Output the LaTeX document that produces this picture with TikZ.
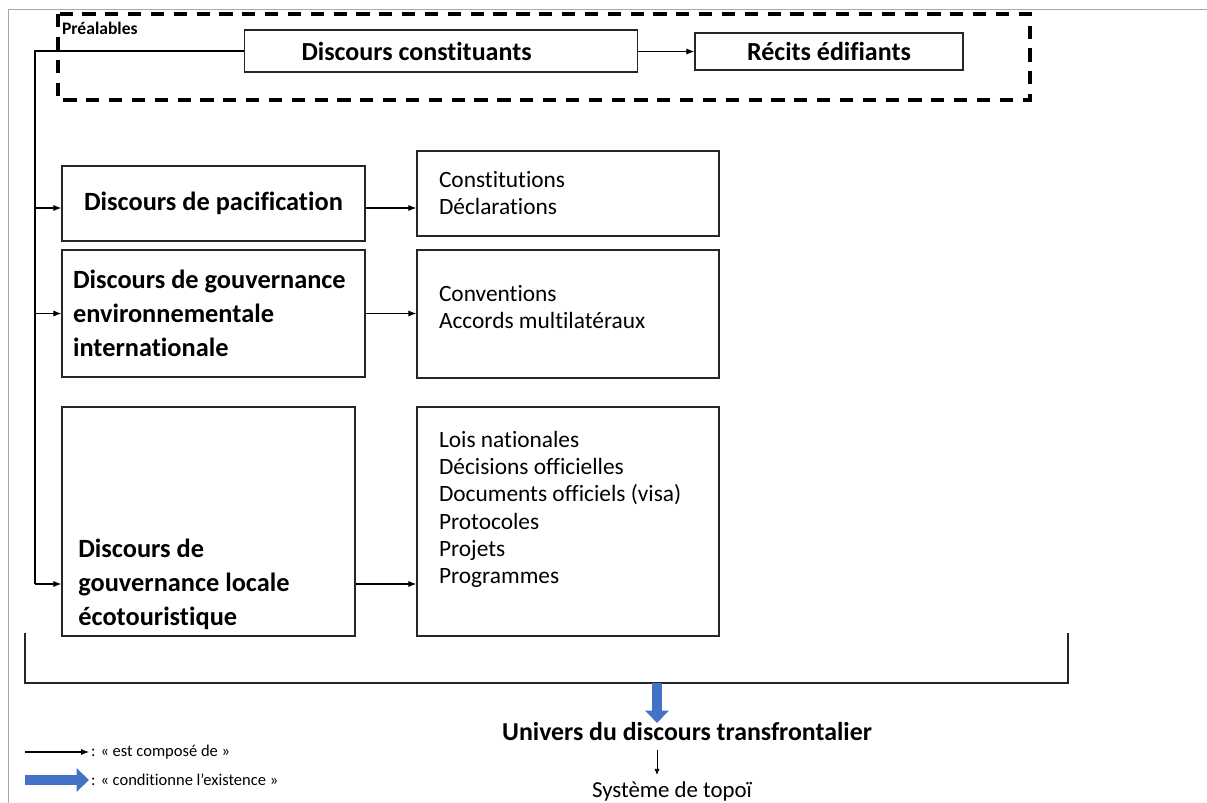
\documentclass[tikz,border=0pt]{standalone}
\usepackage{fontspec}
\setmainfont{Carlito}[Ligatures=NoCommon]
\usetikzlibrary{arrows.meta}
\definecolor{bleu}{HTML}{4472C4}

\begin{document}
\begin{tikzpicture}[x=0.02cm,y=-0.02cm,
	boite/.style={draw=black!85,line width=0.8pt},
	gras/.style={font=\fontsize{15}{19.4}\selectfont\bfseries},
	liste/.style={boite,font=\fontsize{13.3}{15.4}\selectfont,align=flush left,text width=5.16cm,inner xsep=0.44cm},
	fleche/.style={-{Latex[length=4.5pt,width=3.5pt]},line width=0.6pt},
	bleue/.style={draw=bleu,line width=6pt,-{Triangle[length=7pt,width=13pt]}}]
	\useasboundingbox (0,0) rectangle (1207,803);
	\draw[gray!70,line width=0.5pt] (8,803) -- (8,9) -- (1207,9);
	% préalables
	\draw[line width=2.3pt,dash pattern=on 7.5pt off 5.5pt] (58,14) rectangle (1030,100);
	\node[font=\fontsize{10}{11}\selectfont\bfseries,anchor=west,inner sep=1pt] (prea) at (60,28) {Préalables};
	\node[boite,font=\fontsize{14.8}{16}\selectfont\bfseries,minimum height=0.84cm,align=flush left,text width=5.58cm,inner xsep=1.14cm] (const) at (441,51) {Discours constituants};
	\node[boite,font=\fontsize{14.8}{16}\selectfont\bfseries,minimum width=5.36cm,minimum height=0.74cm] (recits) at (829,51.5) {Récits édifiants};
	\draw[fleche] (const.east |- recits) -- (recits.west);
	% les trois discours
	\node[boite,gras,minimum width=6.06cm,minimum height=1.5cm] (paci) at (213.5,203.5) {Discours de pacification};
	\node[liste,minimum height=1.7cm] (consti) at (568,193.5) {Constitutions\\Déclarations};
	\node[boite,gras,align=flush left,text width=5.62cm,inner xsep=0.22cm,minimum height=2.54cm] (gouv) at (213.5,313.5) {Discours de gouvernance\\environnementale\\internationale};
	\node[liste,minimum height=2.56cm,text depth=0.83cm] (conv) at (568,314) {Conventions\\Accords multilatéraux};
	\node[boite,minimum width=5.86cm,minimum height=4.58cm] (loc) at (208.5,521.5) {};
	\node[gras,align=flush left,anchor=west,inner sep=0pt] (loctxt) at (78,584) {Discours de\\gouvernance locale\\écotouristique};
	\node[liste,minimum height=4.58cm,text depth=3.27cm] (lois) at (568,521.5) {Lois nationales\\Décisions officielles\\Documents officiels (visa)\\Protocoles\\Projets\\Programmes};
	\draw[fleche] (paci.east |- 0,208) -- (consti.west |- 0,208);
	\draw[fleche] (gouv.east) -- (gouv.east -| conv.west);
	\draw[fleche] (loctxt -| loc.east) -- (loctxt -| lois.west);
	% axe de gauche
	\coordinate (axe) at (35,0);
	\draw[line width=0.6pt] (const.west) -- (const.west -| axe) -- (axe |- loctxt);
	\draw[fleche] (axe |- 0,208) -- (paci.west |- 0,208);
	\draw[fleche] (axe |- gouv) -- (gouv.west);
	\draw[fleche] (axe |- loctxt) -- (loc.west |- loctxt);
	% crochet et univers
	\draw[boite] (25,633) -- (25,683) -- (1068,683) -- (1068,633);
	\coordinate (crochet) at (657,683);
	\coordinate (pointe) at (657,723);
	\draw[bleue] (crochet) -- (pointe);
	\node[font=\fontsize{14.7}{16}\selectfont\bfseries,anchor=base] (univ) at (687,740) {Univers du discours transfrontalier};
	\node[font=\fontsize{13}{15}\selectfont,anchor=base] (topoi) at (672,797) {Système de topoï};
	\coordinate (haut) at (657,750);
	\coordinate (bas) at (657,775);
	\draw[-{Latex[length=3.5pt,width=3pt]},line width=0.5pt] (haut) -- (bas);
	% légende
	\node[font=\fontsize{9.4}{11}\selectfont,anchor=west,inner sep=1pt] (leg1) at (89,752) {: « est composé de »};
	\node[font=\fontsize{9.4}{11}\selectfont,anchor=west,inner sep=1pt] (leg2) at (89,780) {: « conditionne l’existence »};
	\coordinate (l1) at (25,752);
	\coordinate (l2) at (25,780);
	\draw[fleche] (l1) -- (leg1.west);
	\draw[bleue] (l2) -- (leg2.west);
\end{tikzpicture}
\end{document}
